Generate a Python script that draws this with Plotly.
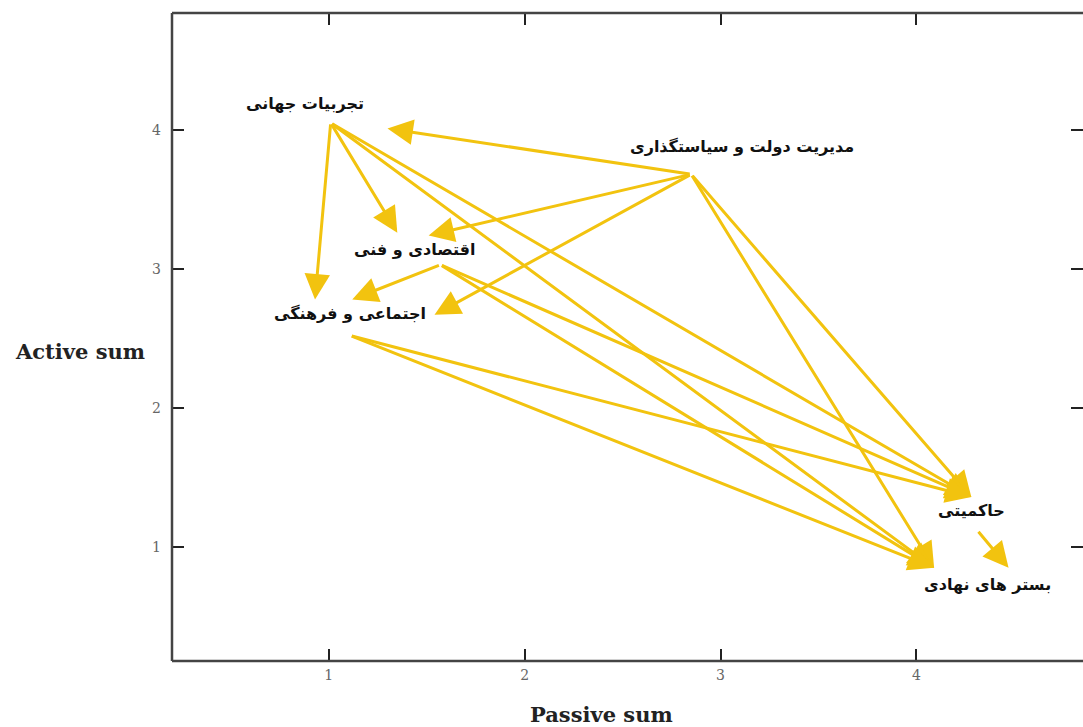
import plotly.graph_objects as go

# ---- data ----
node_names = ["تجربیات جهانی", "مدیریت دولت و سیاستگذاری", "اقتصادی و فنی",
              "اجتماعی و فرهنگی", "حاکمیتی", "بستر های نهادی"]
node_passive = [0.88, 3.11, 1.44, 1.11, 4.28, 4.36]
node_active = [4.19, 3.88, 3.14, 2.68, 1.26, 0.73]

# arrows: tail (passive, active) -> tip (passive, active)
tail_x = [1.01, 1.01, 1.01, 1.01, 2.85, 2.85, 2.85, 2.85, 2.85, 1.57, 1.57, 1.57, 1.11, 1.11, 4.31]
tail_y = [4.05, 4.05, 4.05, 4.05, 3.68, 3.68, 3.68, 3.68, 3.68, 3.03, 3.03, 3.03, 2.52, 2.52, 1.12]
tip_x = [0.93, 1.35, 4.28, 4.09, 1.30, 1.51, 1.54, 4.28, 4.09, 1.12, 4.28, 4.09, 4.28, 4.09, 4.47]
tip_y = [2.78, 3.26, 1.36, 0.85, 4.01, 3.24, 2.67, 1.36, 0.85, 2.78, 1.36, 0.85, 1.36, 0.85, 0.85]

x_ticks = [1, 2, 3, 4]
y_ticks = [1, 2, 3, 4]
x_title = "Passive sum"
y_title = "Active sum"

ARROW = "#F2C30F"
FRAME = "#444"

fig = go.Figure()
fig.add_trace(go.Scatter(x=node_passive, y=node_active, mode="markers",
                         marker=dict(opacity=0), hoverinfo="skip", showlegend=False))

for x0, y0, x1, y1 in zip(tail_x, tail_y, tip_x, tip_y):
    fig.add_annotation(x=x1, y=y1, ax=x0, ay=y0, xref="x", yref="y", axref="x", ayref="y",
                       text="", showarrow=True, arrowhead=2, arrowsize=1.7, arrowwidth=3,
                       arrowcolor=ARROW, standoff=0, startstandoff=0)

for n, x, y in zip(node_names, node_passive, node_active):
    fig.add_annotation(x=x, y=y, xref="x", yref="y", text="<b>" + n + "</b>", showarrow=False,
                       font=dict(family="DejaVu Sans", size=16, color="#111"))

fig.add_annotation(x=-0.101, y=0.477, xref="paper", yref="paper", text="<b>" + y_title + "</b>",
                   showarrow=False, xanchor="center", yanchor="middle",
                   font=dict(family="DejaVu Serif", size=21, color="#222"))
fig.add_annotation(x=0.472, y=-0.083, xref="paper", yref="paper", text="<b>" + x_title + "</b>",
                   showarrow=False, xanchor="center", yanchor="middle",
                   font=dict(family="DejaVu Serif", size=21, color="#222"))

# frame: left, top, bottom (the right side is cut off in the reference)
for x0, y0, x1, y1 in [(0, 0, 0, 1), (0, 1, 1, 1), (0, 0, 1, 0)]:
    fig.add_shape(type="line", xref="paper", yref="paper", x0=x0, y0=y0, x1=x1, y1=y1,
                  line=dict(color=FRAME, width=2.5))

axis_common = dict(showgrid=False, zeroline=False, showline=False,
                   mirror="ticks", ticks="inside", ticklen=12, tickwidth=2, tickcolor="#222",
                   tickfont=dict(family="DejaVu Serif", size=14, color="#666"))
fig.update_xaxes(range=[0.2, 4.85], tickvals=x_ticks, ticklabelstandoff=4, **axis_common)
fig.update_yaxes(range=[0.18, 4.84], tickvals=y_ticks, ticklabelstandoff=10, **axis_common)

fig.update_layout(width=1083, height=727, margin=dict(l=172, r=0, t=13, b=66),
                  plot_bgcolor="white", paper_bgcolor="white")
fig.write_html("out.html", config={"displayModeBar": False},
               post_script="document.body.style.margin='0';")
